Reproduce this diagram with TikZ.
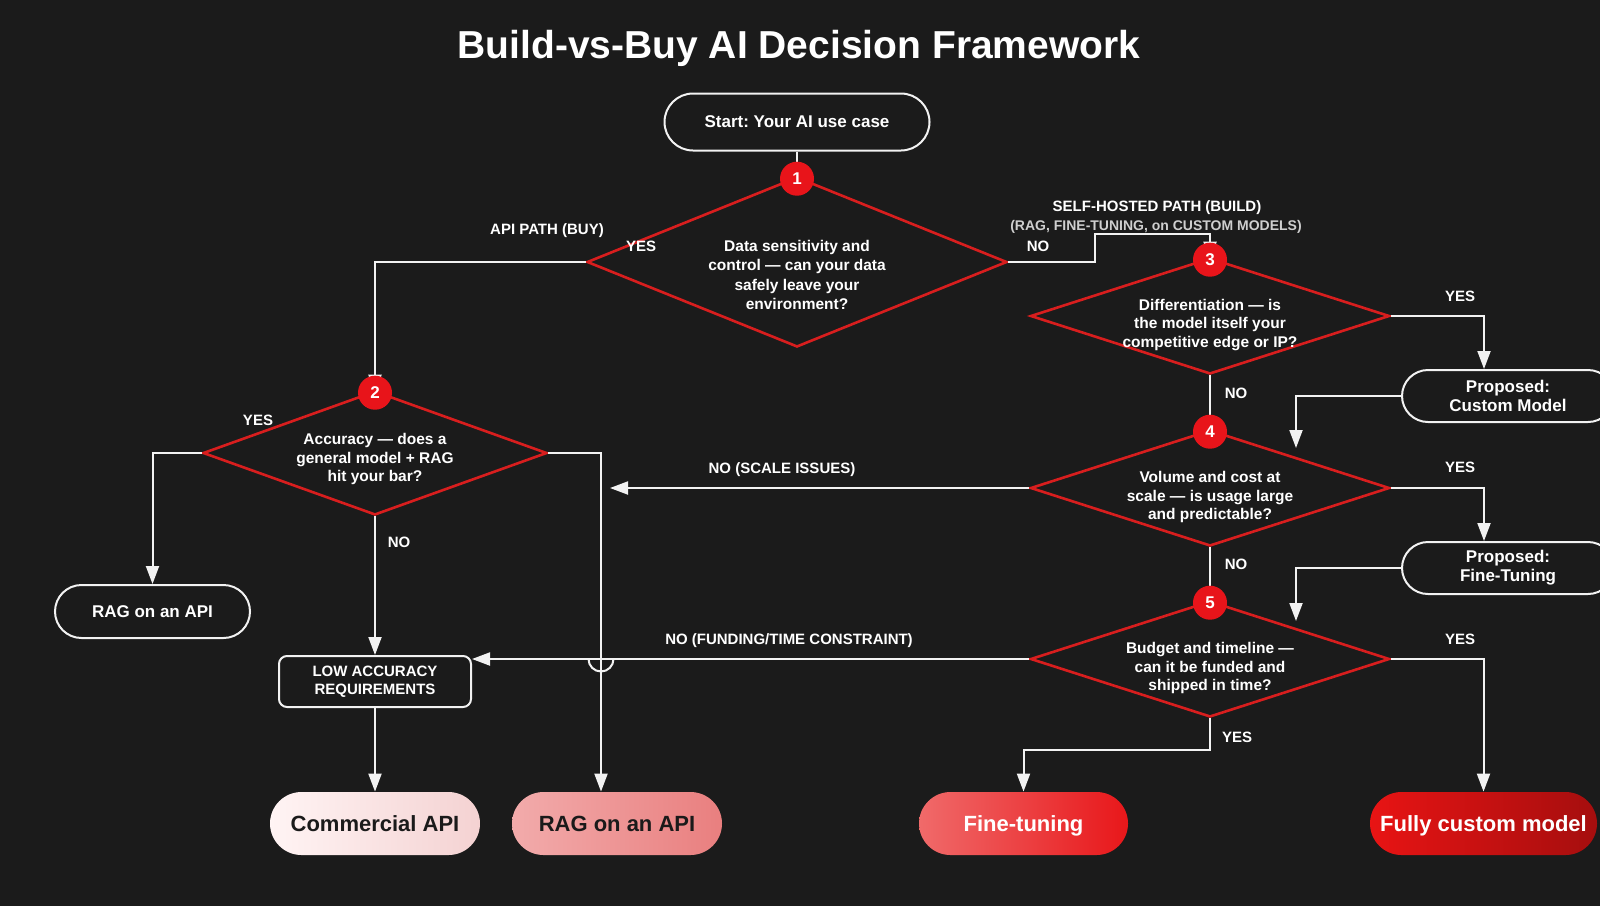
\documentclass[tikz,border=0pt]{standalone}
\usepackage{fontspec}
\setmainfont{Liberation Sans}
\usetikzlibrary{shapes.geometric,arrows.meta,calc}
\definecolor{bg}{HTML}{1B1B1B}
\definecolor{dred}{HTML}{D81E1E}
\definecolor{cred}{HTML}{E8141A}
\definecolor{lw}{HTML}{F2F2F2}
\definecolor{subgray}{HTML}{CFCFCF}
\definecolor{darktext}{HTML}{1A1A1A}
\definecolor{oaL}{HTML}{FFF4F4}
\definecolor{oaR}{HTML}{F4D2D2}
\definecolor{obL}{HTML}{F2ABAB}
\definecolor{obR}{HTML}{E97F7F}
\definecolor{ocL}{HTML}{F06A6A}
\definecolor{ocR}{HTML}{E8171A}
\definecolor{odL}{HTML}{E81414}
\definecolor{odR}{HTML}{A50E0E}
\frenchspacing
\begin{document}
\begin{tikzpicture}[x=0.5pt,y=-0.5pt,
  conn/.style={draw=lw, line width=1pt},
  arr/.style={conn, -{Triangle[length=9pt,width=6.5pt]}},
  dia/.style={diamond, draw=dred, line width=1.3pt, inner sep=0pt, minimum width=179.5pt, minimum height=58pt},
  qtext/.style={text=white, font=\fontsize{7.75}{9.2}\selectfont\bfseries, align=center, inner sep=0pt},
  badge/.style={circle, fill=cred, minimum size=17pt, inner sep=0pt, text=white, font=\fontsize{8.5}{10}\selectfont\bfseries},
  lbl/.style={text=white, font=\fontsize{7.5}{9}\selectfont\bfseries, inner sep=0pt},
  pill/.style={draw=lw, line width=1pt, text=white, font=\fontsize{8.5}{9.5}\selectfont\bfseries, align=center, inner sep=0pt},
  outcome/.style={minimum width=105pt, minimum height=31.5pt, rounded corners=15.75pt, inner sep=0pt, text height=8pt, text depth=0pt, font=\fontsize{11}{13}\selectfont\bfseries},
]
\fill[bg] (0,0) rectangle (1600,906);
\useasboundingbox (0,0) rectangle (1600,906);

\node[anchor=base, text=white, font=\fontsize{19.5}{23}\selectfont\bfseries, inner sep=0pt] (title) at (799,58) {Build-vs-Buy AI Decision Framework};

% nodes
\node[pill, minimum width=132.5pt, minimum height=28.5pt, rounded corners=14.25pt] (start) at (797,122) {Start: Your AI use case};

\node[dia, minimum width=210pt, minimum height=85pt] (d1) at (797,262) {};
\node[qtext, font=\fontsize{7.75}{9.6}\selectfont\bfseries] (q1) at (797,275) {Data sensitivity and\\control — can your data\\safely leave your\\environment?};

\node[dia, minimum width=172pt, minimum height=62pt] (d2) at (375,453) {};
\node[qtext] (q2) at (375,459) {Accuracy — does a\\general model + RAG\\hit your bar?};

\node[dia] (d3) at (1210,316) {};
\node[qtext] (q3) at (1210,325) {Differentiation — is\\the model itself your\\competitive edge or IP?};

\node[dia] (d4) at (1210,488) {};
\node[qtext] (q4) at (1210,497) {Volume and cost at\\scale — is usage large\\and predictable?};

\node[dia] (d5) at (1210,659) {};
\node[qtext] (q5) at (1210,668) {Budget and timeline —\\can it be funded and\\shipped in time?};

\node[pill, minimum width=106pt, minimum height=26pt, rounded corners=13pt] (cm) at (1508,396) {Proposed:\\Custom Model};
\node[pill, minimum width=106pt, minimum height=26pt, rounded corners=13pt] (ft) at (1508,568) {Proposed:\\Fine-Tuning};
\node[pill, minimum width=97.5pt, minimum height=26.5pt, rounded corners=13.25pt] (ragL) at (152.5,611.5) {RAG on an API};
\node[pill, rounded corners=4pt, minimum width=96pt, minimum height=25.5pt, font=\fontsize{7.5}{9}\selectfont\bfseries] (low) at (375,681.5) {LOW ACCURACY\\REQUIREMENTS};

\node[outcome, left color=oaL, right color=oaR, text=darktext] (commercial) at (375,823.5) {Commercial API};
\node[outcome, left color=obL, right color=obR, text=darktext] (ragB) at (617,823.5) {RAG on an API};
\node[outcome, minimum width=104.5pt, left color=ocL, right color=ocR, text=white] (fine) at (1023.5,823.5) {Fine-tuning};
\node[outcome, minimum width=113.5pt, left color=odL, right color=odR, text=white] (custom) at (1483.5,823.5) {Fully custom model};

% connectors
\draw[conn] (start.south) -- (d1.north);
\draw[arr] (d1.west) -| ([yshift=-1.5pt]d2.north);
\draw[arr] (d1.east) -| ++(87,-28) -| ([yshift=-1.5pt]d3.north);
\draw[arr] (d3.east) -| ([xshift=-12pt]cm.north);
\draw[conn] (d3.south) -- (d4.north);
\coordinate (t4) at (1296,448);
\draw[arr] (cm.west) -| (t4);
\draw[arr] (d4.east) -| ([xshift=-12pt]ft.north);
\coordinate (t2) at (610,488);
\draw[arr] (d4.west) -- (t2);
\draw[conn] (d4.south) -- (d5.north);
\coordinate (t5) at (1296,621);
\draw[arr] (ft.west) -| (t5);
\draw[arr] (d5.east) -| (custom.north);
\draw[arr] (d5.west) -- (d5.west -| low.east);
\draw[arr] (d5.south) -- ++(0,32) -| (fine.north);
\draw[arr] (d2.west) -| (ragL.north);
\draw[arr] (d2.east) -| ([xshift=-8pt]ragB.north);
\coordinate (jump) at ([xshift=-8pt]ragB.north |- d5.west);
\draw[conn] ([xshift=6.25pt]jump) arc[start angle=0, end angle=180, radius=12.5];
\draw[arr] (d2.south) -- (low.north);
\draw[arr] (low.south) -- (commercial.north);

% badges
\node[badge] (c1) at ([yshift=-1.5pt]d1.north) {1};
\node[badge] (c2) at ([yshift=-1.5pt]d2.north) {2};
\node[badge] (c3) at ([yshift=-1.5pt]d3.north) {3};
\node[badge] (c4) at ([yshift=-1.5pt]d4.north) {4};
\node[badge] (c5) at ([yshift=-1.5pt]d5.north) {5};

% labels
\node[lbl] (l1y) at (641,246) {YES};
\node[lbl] (l1n) at (1038,246) {NO};
\node[lbl] (lapi) at (547,231) {API PATH (BUY)};
\node[lbl] (lself) at (1157,208) {SELF-HOSTED PATH (BUILD)};
\node[lbl, text=subgray, font=\fontsize{7}{8}\selectfont\bfseries] (lsub) at (1156,227) {(RAG, FINE-TUNING, on CUSTOM MODELS)};
\node[lbl] (l3y) at (1460,296) {YES};
\node[lbl] (l3n) at (1236,393) {NO};
\node[lbl] (l4y) at (1460,467) {YES};
\node[lbl] (l4n) at (1236,564) {NO};
\node[lbl] (l4s) at (782,470) {NO (SCALE ISSUES)};
\node[lbl] (l5y) at (1460,639) {YES};
\node[lbl] (l5b) at (1237,737) {YES};
\node[lbl] (l5n) at (789,641) {NO (FUNDING/TIME CONSTRAINT)};
\node[lbl] (l2y) at (258,420) {YES};
\node[lbl] (l2n) at (399,542) {NO};
\end{tikzpicture}
\end{document}
